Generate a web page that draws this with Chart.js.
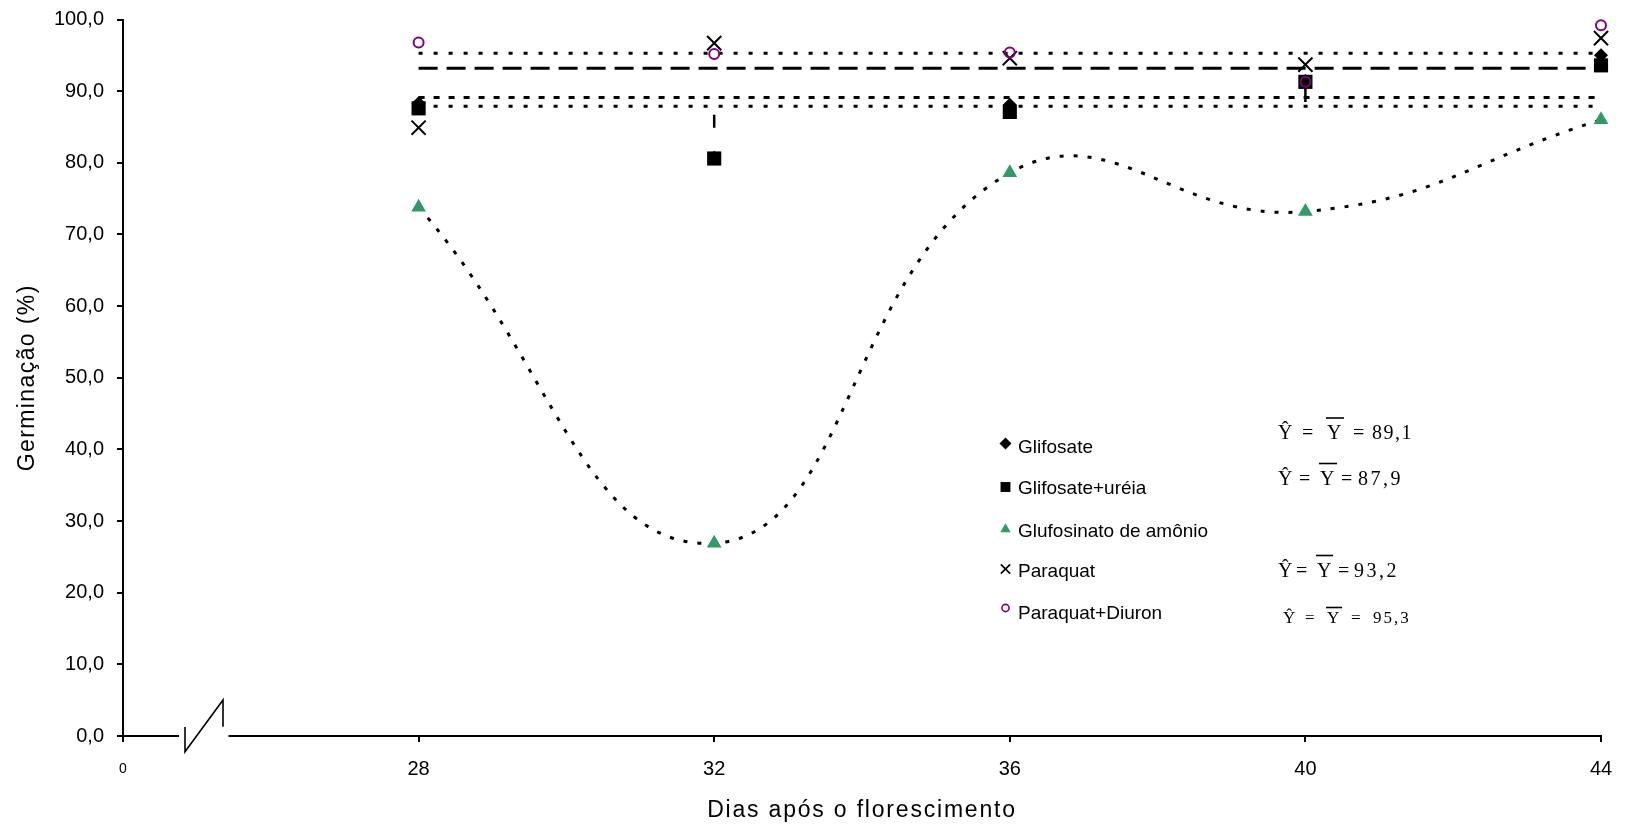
<!DOCTYPE html>
<html>
<head>
<meta charset="utf-8">
<script src="https://cdn.jsdelivr.net/npm/chart.js@4/dist/chart.umd.min.js"></script>
<style>
  html, body { margin: 0; padding: 0; background: #ffffff; }
  canvas { display: block; }
</style>
</head>
<body>
<canvas id="c" width="1626" height="826"></canvas>
<script>
// ---------------- DATA ----------------
const days = [28, 32, 36, 40, 44];
const glifosate      = [88.3, 80.7, 88.1, 91.4, 95.0];
const glifosateUreia = [87.6, 80.6, 87.1, 91.3, 93.6];
const glufosinato    = [73.8, 26.9, 78.6, 73.2, 86.0];
const paraquat       = [84.9, 96.7, 94.6, 93.7, 97.4];
const paraquatDiuron = [96.8, 95.2, 95.4, 91.3, 99.2];

const meanGlifosate      = 89.1;
const meanGlifosateUreia = 87.9;
const meanParaquat       = 93.2;
const meanParaquatDiuron = 95.3;

// short vertical marks seen at 32 and 40 days
const markDays = [32, 40];
const markLow  = [84.9, 88.5];
const markHigh = [86.7, 90.4];

const xTickValues = [24, 28, 32, 36, 40, 44];
const xTickLabels = ['0', '28', '32', '36', '40', '44'];
const yTickValues = [0, 10, 20, 30, 40, 50, 60, 70, 80, 90, 100];

const seriesNames = ['Glifosate', 'Glifosate+uréia', 'Glufosinato de amônio', 'Paraquat', 'Paraquat+Diuron'];
const equationTexts = ['89,1', '87,9', '', '93,2', '95,3'];

const xTitle = 'Dias após o florescimento';
const yTitle = 'Germinação (%)';

// ---------------- STYLE ----------------
const GREEN = '#339966';
const PURPLE = '#800080';
const SANS = '"Liberation Sans", Arial, sans-serif';
const SERIF = '"Liberation Serif", "Times New Roman", serif';

const pts = (arr) => days.map((d, i) => ({ x: d, y: arr[i] }));
const flat = (v) => [{ x: days[0], y: v }, { x: days[days.length - 1], y: v }];
const markData = [];
markDays.forEach((d, i) => {
  if (i > 0) markData.push({ x: (markDays[i - 1] + d) / 2, y: null });
  markData.push({ x: d, y: markLow[i] }, { x: d, y: markHigh[i] });
});

const markerStyles = [
  { pointStyle: 'rectRot', radius: 7, bg: '#000', border: '#000', bw: 0 },
  { pointStyle: 'rect', radius: 10, bg: '#000', border: '#000', bw: 0 },
  { pointStyle: 'triangle', radius: 8.5, bg: GREEN, border: GREEN, bw: 0 },
  { pointStyle: 'crossRot', radius: 10, bg: '#000', border: '#000', bw: 2 },
  { pointStyle: 'circle', radius: 5, bg: 'rgba(0,0,0,0)', border: PURPLE, bw: 2 }
];
const seriesArrays = [glifosate, glifosateUreia, glufosinato, paraquat, paraquatDiuron];
const seriesOrder = [6, 5, 4, 2, 1];

const datasets = [];
seriesArrays.forEach((arr, i) => {
  const m = markerStyles[i];
  const isCurve = i === 2;
  datasets.push({
    label: seriesNames[i],
    data: pts(arr),
    showLine: isCurve,
    tension: 0.45,
    borderColor: '#000',
    borderWidth: 3,
    borderDash: [4, 10],
    pointStyle: m.pointStyle,
    pointRadius: m.radius,
    pointBackgroundColor: m.bg,
    pointBorderColor: m.border,
    pointBorderWidth: m.bw,
    clip: false,
    order: seriesOrder[i]
  });
});
const meanLines = [
  { v: meanParaquatDiuron, dash: [4, 11] },
  { v: meanParaquat, dash: [19, 9] },
  { v: meanGlifosate, dash: [6, 9] },
  { v: meanGlifosateUreia, dash: [4, 11] }
];
meanLines.forEach((m) => {
  datasets.push({
    label: 'mean ' + m.v,
    data: flat(m.v),
    showLine: true,
    borderColor: '#000',
    borderWidth: 3,
    borderDash: m.dash,
    pointRadius: 0,
    clip: false,
    order: 10
  });
});
datasets.push({
  label: 'marks',
  data: markData,
  showLine: true,
  spanGaps: false,
  borderColor: '#000',
  borderWidth: 2.5,
  pointRadius: 0,
  clip: false,
  order: 9
});

// ---------------- PLUGINS ----------------
function drawMarker(ctx, style, x, y, r, fill, stroke, bw) {
  ctx.save();
  ctx.fillStyle = fill;
  ctx.strokeStyle = stroke;
  ctx.lineWidth = bw;
  if (Chart.helpers && Chart.helpers.drawPoint) {
    Chart.helpers.drawPoint(ctx, { pointStyle: style, radius: r, rotation: 0, borderWidth: bw }, x, y);
  }
  ctx.restore();
}

const decorPlugin = {
  id: 'decor',
  beforeDraw(chart) {
    ['x', 'y'].forEach((k) => {
      const s = chart.scales[k];
      if (s && !s.__patched) {
        const orig = s.drawTitle;
        const spacing = k === 'x' ? '1.8px' : '1.4px';
        s.drawTitle = function () {
          this.ctx.save();
          try { this.ctx.letterSpacing = spacing; } catch (e) {}
          orig.apply(this, arguments);
          this.ctx.restore();
        };
        s.__patched = true;
      }
    });
  },
  afterDraw(chart) {
    const ctx = chart.ctx;
    const xs = chart.scales.x;
    const x0 = xs.left;
    const yA = xs.top;
    // axis break
    ctx.save();
    ctx.fillStyle = '#fff';
    ctx.fillRect(x0 + 56, yA - 3, 49.5, 6);
    ctx.strokeStyle = '#000';
    ctx.lineWidth = 1.6;
    ctx.beginPath();
    ctx.moveTo(x0 + 62, yA - 9);
    ctx.lineTo(x0 + 62, yA + 15.7);
    ctx.lineTo(x0 + 100, yA - 36);
    ctx.lineTo(x0 + 100, yA - 9.3);
    ctx.stroke();
    ctx.restore();

    // legend
    const legX = 1005.5, legTextX = 1018;
    const legMarkY = [443.5, 487, 529.3, 569, 608];
    const legBase = [452.5, 494, 536.5, 576.5, 618.5];
    const legR = [6, 7, 6, 6.6, 3.6];
    ctx.save();
    markerStyles.forEach((m, i) => {
      drawMarker(ctx, m.pointStyle, legX, legMarkY[i], legR[i], m.bg, m.border, m.bw ? 1.6 : 0);
    });
    ctx.fillStyle = '#000';
    ctx.font = '19px ' + SANS;
    ctx.textBaseline = 'alphabetic';
    ctx.textAlign = 'left';
    seriesNames.forEach((n, i) => ctx.fillText(n, legTextX, legBase[i]));
    ctx.restore();

    // equations  Ŷ = Ȳ = value
    const eqLayout = [
      { base: 439, size: 20, xs: [1278, 1302, 1327, 1353, 1372], ol: [1326, 1344], olY: 418, sp: '1.5px' },
      { base: 485, size: 20, xs: [1278, 1299, 1320, 1341, 1358], ol: [1319, 1337], olY: 463.5, sp: '2.5px' },
      null,
      { base: 577, size: 20, xs: [1278, 1296, 1317, 1338, 1354], ol: [1316, 1333], olY: 555.5, sp: '2.5px' },
      { base: 623, size: 17, xs: [1283, 1305, 1327, 1351, 1373], ol: [1326, 1342], olY: 607.5, sp: '2px' }
    ];
    ctx.save();
    ctx.fillStyle = '#000';
    ctx.strokeStyle = '#000';
    ctx.textBaseline = 'alphabetic';
    ctx.textAlign = 'left';
    equationTexts.forEach((val, i) => {
      const L = eqLayout[i];
      if (!L || !val) return;
      ctx.font = L.size + 'px ' + SERIF;
      try { ctx.letterSpacing = '0px'; } catch (e) {}
      ctx.fillText('\u0176', L.xs[0], L.base);
      ctx.fillText('=', L.xs[1], L.base);
      ctx.fillText('Y', L.xs[2], L.base);
      ctx.fillText('=', L.xs[3], L.base);
      try { ctx.letterSpacing = L.sp; } catch (e) {}
      ctx.fillText(val, L.xs[4], L.base);
      ctx.lineWidth = 1.6;
      ctx.beginPath();
      ctx.moveTo(L.ol[0], L.olY);
      ctx.lineTo(L.ol[1], L.olY);
      ctx.stroke();
    });
    try { ctx.letterSpacing = '0px'; } catch (e) {}
    ctx.restore();
  }
};

// ---------------- CHART ----------------
new Chart(document.getElementById('c'), {
  type: 'scatter',
  data: { datasets },
  plugins: [decorPlugin],
  options: {
    responsive: false,
    animation: false,
    devicePixelRatio: 1,
    layout: { padding: { left: 0, right: 25, top: 19.5, bottom: 0 } },
    plugins: { legend: { display: false }, tooltip: { enabled: false } },
    scales: {
      x: {
        type: 'linear',
        min: 24,
        max: 44,
        afterBuildTicks: (s) => { s.ticks = xTickValues.map((v) => ({ value: v })); },
        afterFit: (s) => { s.height = 90; s.paddingLeft = 0; s.paddingRight = 0; },
        ticks: {
          autoSkip: false,
          maxRotation: 0,
          color: '#000',
          padding: 15,
          callback: (v) => xTickLabels[xTickValues.indexOf(v)],
          font: (c) => (c.tick && c.tick.value === xTickValues[0])
            ? { family: SANS, size: 14, lineHeight: 24 / 14 }
            : { family: SANS, size: 20, lineHeight: 1.2 }
        },
        grid: { drawOnChartArea: false, drawTicks: true, tickLength: 6, color: '#000', lineWidth: 2 },
        border: { display: true, color: '#000', width: 2 },
        title: {
          display: true, text: xTitle, color: '#000',
          font: { family: SANS, size: 23 },
          padding: { top: 0, bottom: 2 }
        }
      },
      y: {
        type: 'linear',
        min: 0,
        max: 100,
        afterBuildTicks: (s) => { s.ticks = yTickValues.map((v) => ({ value: v })); },
        afterFit: (s) => { s.width = 123; s.paddingTop = 0; s.paddingBottom = 0; },
        ticks: {
          color: '#000',
          padding: 13,
          callback: (v) => v.toFixed(1).replace('.', ','),
          font: { family: SANS, size: 20 }
        },
        grid: { drawOnChartArea: false, drawTicks: true, tickLength: 6, color: '#000', lineWidth: 2 },
        border: { display: true, color: '#000', width: 2 },
        title: {
          display: true, text: yTitle, color: '#000',
          font: { family: SANS, size: 23 },
          padding: { top: 14, bottom: 0 }
        }
      }
    }
  }
});
</script>
</body>
</html>
